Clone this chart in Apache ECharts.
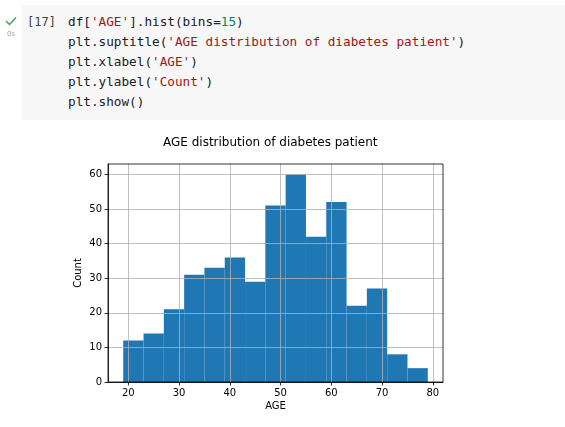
<!DOCTYPE html>
<html>
<head>
<meta charset="utf-8">
<script src="https://cdn.jsdelivr.net/npm/echarts@6/dist/echarts.min.js"></script>
<style>
  html, body { margin:0; padding:0; background:#fff; width:565px; height:427px; overflow:hidden; }
  #chart { position:absolute; left:0; top:0; width:565px; height:427px; }
  #cell { position:absolute; left:22px; top:5px; width:543px; height:115px; background:#f7f7f7; z-index:2; }
  .code { position:absolute; left:46px; top:7px; margin:0; font-family:"DejaVu Sans Mono", monospace; font-size:12.7px; line-height:20px; color:#212121; white-space:pre; }
  .s { color:#a31515; }
  .n { color:#098658; }
  #prompt { position:absolute; left:27px; top:12px; font-family:"DejaVu Sans Mono", monospace; font-size:12px; line-height:20px; color:#424242; z-index:3; white-space:pre; }
  #check { position:absolute; left:5px; top:16px; z-index:3; }
  #time { position:absolute; left:7px; top:30px; font-family:"DejaVu Sans", sans-serif; font-size:7px; color:#9e9e9e; z-index:3; }
</style>
</head>
<body>
<div id="chart"></div>
<div id="cell"><div class="code">df[<span class="s">'AGE'</span>].hist(bins=<span class="n">15</span>)
plt.suptitle(<span class="s">'AGE distribution of diabetes patient'</span>)
plt.xlabel(<span class="s">'AGE'</span>)
plt.ylabel(<span class="s">'Count'</span>)
plt.show()</div></div>
<div id="prompt">[17]</div>
<svg id="check" width="12" height="10" viewBox="0 0 12 10"><path d="M1 5 L4.5 8.5 L11 1.5" fill="none" stroke="#3aa757" stroke-width="1.5"/></svg>
<div id="time">0s</div>
<script>
const titleText = 'AGE distribution of diabetes patient';
const xName = 'AGE';
const yName = 'Count';
const binEdges = [19, 23, 27, 31, 35, 39, 43, 47, 51, 55, 59, 63, 67, 71, 75, 79];
const counts = [12, 14, 21, 31, 33, 36, 29, 51, 60, 42, 52, 22, 27, 8, 4];
const xTicks = [20, 30, 40, 50, 60, 70, 80];
const yTicks = [0, 10, 20, 30, 40, 50, 60];

const histData = counts.map((c, i) => [binEdges[i], binEdges[i + 1], c]);

const chart = echarts.init(document.getElementById('chart'), null, { renderer: 'canvas' });
const font = 'DejaVu Sans';
chart.setOption({
  animation: false,
  backgroundColor: '#fff',
  title: {
    text: titleText,
    left: 163, top: 137, padding: 0,
    textStyle: { fontFamily: font, fontSize: 12, fontWeight: 'normal', color: '#000' }
  },
  grid: {
    left: 108, right: 122, top: 164, bottom: 45,
    show: true, borderColor: '#000', borderWidth: 0.8, backgroundColor: 'transparent', z: 10
  },
  xAxis: {
    type: 'value', min: 16, max: 82, z: 5,
    name: xName, nameLocation: 'middle', nameGap: 19, nameMoveOverlap: false,
    nameTextStyle: { fontFamily: font, fontSize: 10, color: '#000' },
    axisLine: { show: true, onZero: false, lineStyle: { color: '#000', width: 0.8 } },
    axisTick: { show: true, length: 3.5, lineStyle: { color: '#000', width: 0.8 }, customValues: xTicks },
    axisLabel: { fontFamily: font, fontSize: 10, color: '#000', margin: 6, customValues: xTicks },
    splitLine: { show: true, lineStyle: { color: '#b0b0b0', width: 0.8 } }
  },
  yAxis: {
    type: 'value', min: 0, max: 63, z: 5,
    name: yName, nameLocation: 'middle', nameGap: 25, nameMoveOverlap: false,
    nameTextStyle: { fontFamily: font, fontSize: 10, color: '#000' },
    axisLine: { show: true, onZero: false, lineStyle: { color: '#000', width: 0.8 } },
    axisTick: { show: true, length: 3.5, lineStyle: { color: '#000', width: 0.8 }, customValues: yTicks },
    axisLabel: { fontFamily: font, fontSize: 10, color: '#000', margin: 6, customValues: yTicks },
    splitLine: { show: true, lineStyle: { color: '#b0b0b0', width: 0.8 } }
  },
  series: [{
    type: 'custom',
    data: histData,
    encode: { x: [0, 1], y: 2 },
    renderItem: function (params, api) {
      const p0 = api.coord([api.value(0), api.value(2)]);
      const p1 = api.coord([api.value(1), 0]);
      return {
        type: 'rect',
        shape: { x: p0[0], y: p0[1], width: p1[0] - p0[0], height: p1[1] - p0[1] },
        style: { fill: '#1f77b4' }
      };
    }
  }]
});
</script>
</body>
</html>
